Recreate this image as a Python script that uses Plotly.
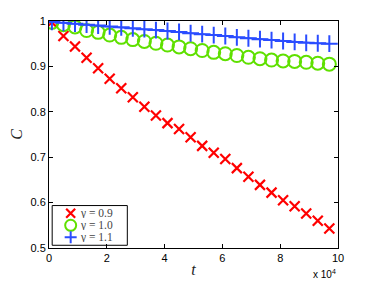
import plotly.graph_objects as go

t = [1000, 5000, 9000, 13000, 17000, 21000, 25000, 29000, 33000, 37000, 41000, 45000,
     49000, 53000, 57000, 61000, 65000, 69000, 73000, 77000, 81000, 85000, 89000, 93000, 97000]

c_09 = [0.997, 0.967, 0.944, 0.919, 0.896, 0.873, 0.852, 0.832, 0.811, 0.792, 0.775, 0.762,
        0.744, 0.725, 0.710, 0.696, 0.676, 0.657, 0.639, 0.622, 0.605, 0.592, 0.576, 0.560, 0.543]
c_10 = [0.997, 0.992, 0.987, 0.979, 0.975, 0.969, 0.964, 0.959, 0.955, 0.951, 0.947, 0.943,
        0.939, 0.935, 0.931, 0.928, 0.924, 0.920, 0.917, 0.914, 0.912, 0.911, 0.909, 0.907, 0.905]
c_11 = [0.998, 0.996, 0.994, 0.992, 0.990, 0.988, 0.986, 0.984, 0.982, 0.980, 0.978, 0.976,
        0.973, 0.971, 0.969, 0.967, 0.964, 0.962, 0.960, 0.958, 0.956, 0.954, 0.952, 0.951, 0.950]

series_names = ["γ = 0.9", "γ = 1.0", "γ = 1.1"]
x_tickvals = [0, 20000, 40000, 60000, 80000, 100000]
x_ticktext = ["0", "2", "4", "6", "8", "10"]
y_tickvals = [0.5, 0.6, 0.7, 0.8, 0.9, 1.0]
y_ticktext = ["0.5", "0.6", "0.7", "0.8", "0.9", "1"]

RED, GREEN, BLUE = "#ff0000", "#5fe000", "#2a4cff"

fig = go.Figure()
fig.add_trace(go.Scatter(x=t, y=c_09, mode="markers", name=series_names[0],
                         marker=dict(symbol="x-thin", size=10, color=RED,
                                     line=dict(color=RED, width=2.2))))
fig.add_trace(go.Scatter(x=t, y=c_10, mode="markers", name=series_names[1],
                         marker=dict(symbol="circle-open", size=13, color=GREEN,
                                     line=dict(color=GREEN, width=2))))
fig.add_trace(go.Scatter(x=t, y=c_11, mode="lines+markers", name=series_names[2],
                         line=dict(color=BLUE, width=1.5),
                         marker=dict(symbol="cross-thin", size=12, color=BLUE,
                                     line=dict(color=BLUE, width=2))))

axis_common = dict(showgrid=False, zeroline=False, showline=True, linecolor="black",
                   linewidth=1, mirror="ticks", ticks="inside", ticklen=4,
                   tickcolor="black", automargin=False,
                   tickfont=dict(family="Liberation Sans, Arial", size=11, color="black"))

fig.update_xaxes(range=[0, 100000], tickvals=x_tickvals, ticktext=x_ticktext,
                 title=dict(text="<i>t</i>", font=dict(family="Liberation Serif, serif", size=16, color="#222"), standoff=0),
                 **axis_common)
fig.update_yaxes(range=[0.5, 1.0], tickvals=y_tickvals, ticktext=y_ticktext,
                 title=dict(text="<i>C</i>", font=dict(family="Liberation Serif, serif", size=16, color="#222"), standoff=4),
                 **axis_common)

fig.add_annotation(text="x 10<sup>4</sup>", xref="paper", yref="paper", x=1.0, y=0,
                   xanchor="right", yanchor="top", yshift=-18, showarrow=False,
                   font=dict(family="Liberation Sans, Arial", size=10, color="black"))

# compact legend box (matches the reference's small MATLAB-style legend)
fig.add_shape(type="rect", xref="paper", yref="paper", x0=0.011, x1=0.271, y0=0.012, y1=0.187,
              line=dict(color="black", width=1), fillcolor="white", layer="below")
key_x = 0.075
text_x = 0.105
rows_y = [0.153, 0.100, 0.047]
fig.add_shape(type="path", xref="paper", yref="paper", xsizemode="pixel", ysizemode="pixel",
              xanchor=key_x, yanchor=rows_y[0], path="M-4.5,-4.5 L4.5,4.5 M-4.5,4.5 L4.5,-4.5",
              line=dict(color=RED, width=2.2))
fig.add_shape(type="circle", xref="paper", yref="paper", xsizemode="pixel", ysizemode="pixel",
              xanchor=key_x, yanchor=rows_y[1], x0=-5.5, x1=5.5, y0=-5.5, y1=5.5,
              line=dict(color=GREEN, width=2))
fig.add_shape(type="path", xref="paper", yref="paper", xsizemode="pixel", ysizemode="pixel",
              xanchor=key_x, yanchor=rows_y[2], path="M-6,0 L6,0 M0,-6 L0,6",
              line=dict(color=BLUE, width=2))
for name, ry in zip(series_names, rows_y):
    fig.add_annotation(text=name, xref="paper", yref="paper", x=text_x, y=ry,
                       xanchor="left", yanchor="middle", showarrow=False,
                       height=10, borderpad=0,
                       font=dict(family="Liberation Serif, serif", size=11.5, color="#444"))

fig.update_layout(
    template="none",
    width=366, height=273,
    margin=dict(l=41, r=36, t=13, b=33, autoexpand=False),
    plot_bgcolor="white", paper_bgcolor="white",
    showlegend=False,
)

fig.write_html("out.html")
